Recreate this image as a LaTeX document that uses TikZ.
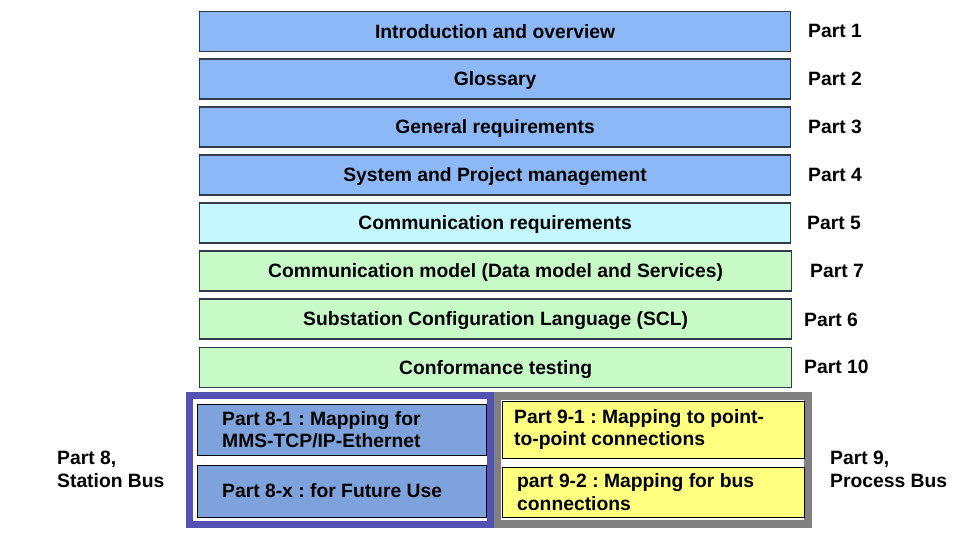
\documentclass[tikz,border=0pt]{standalone}
\usepackage{fontspec}
\setmainfont{Liberation Sans}
\definecolor{barblue}{RGB}{140,184,248}
\definecolor{barcyan}{RGB}{196,248,252}
\definecolor{bargreen}{RGB}{200,250,200}
\definecolor{boxblue}{RGB}{126,162,220}
\definecolor{frameblue}{RGB}{82,82,178}
\definecolor{framegray}{RGB}{128,128,128}
\definecolor{boxyellow}{RGB}{255,255,128}
\definecolor{edge}{RGB}{50,60,70}
\begin{document}
\frenchspacing
\begin{tikzpicture}[x=1pt,y=-1pt,
  every node/.style={font=\fontsize{19.3}{22.5}\selectfont\bfseries},
  bar/.style={draw=edge,line width=1.2pt,minimum width=591pt,minimum height=40pt,inner sep=0pt,anchor=north west,text height=13.8pt,text depth=0pt},
  sub/.style={draw=black,line width=1.2pt,inner sep=0pt,anchor=north west},
  lbl/.style={anchor=west,inner sep=0pt,text height=13.8pt,text depth=0pt},
  txt/.style={anchor=west,inner sep=0pt,align=left}]
\useasboundingbox (0,0) rectangle (962,537);
\fill[white] (0,0) rectangle (962,537);
% main bars
\node[bar,fill=barblue] (b1) at (199,11) {Introduction and overview};
\node[bar,fill=barblue] (b2) at (199,58.5) {Glossary};
\node[bar,fill=barblue] (b3) at (199,106.5) {General requirements};
\node[bar,fill=barblue] (b4) at (199,154.5) {System and Project management};
\node[bar,fill=barcyan] (b5) at (199,202.5) {Communication requirements};
\node[bar,fill=bargreen,minimum width=592pt] (b6) at (199,250.5) {Communication model (Data model and Services)};
\node[bar,fill=bargreen,minimum width=592pt] (b7) at (199,298.5) {Substation Configuration Language (SCL)};
\node[bar,fill=bargreen,minimum width=592pt] (b8) at (199,347) {Conformance testing};
% part labels
\node[lbl] (p1) at (808,31) {Part 1};
\node[lbl] (p2) at (808,79) {Part 2};
\node[lbl] (p3) at (808,127) {Part 3};
\node[lbl] (p4) at (808,175) {Part 4};
\node[lbl] (p5) at (807,223) {Part 5};
\node[lbl] (p7) at (810,271) {Part 7};
\node[lbl] (p6) at (804,320) {Part 6};
\node[lbl] (p10) at (804,367) {Part 10};
% frames
\draw[framegray,line width=8pt] (497,396) rectangle (808,524);
\draw[frameblue,line width=7pt] (189.5,395.5) rectangle (490,524.5);
% part 8 boxes
\node[sub,fill=boxblue,minimum width=289pt,minimum height=51pt] (s81) at (197,404) {};
\node[sub,fill=boxblue,minimum width=289pt,minimum height=52pt] (s8x) at (197,465) {};
\node[txt] (t81) at (222,429.5) {Part 8-1 : Mapping for\\MMS-TCP/IP-Ethernet};
\node[txt] (t8x) at (222,491) {Part 8-x : for Future Use};
% part 9 boxes
\node[sub,fill=boxyellow,minimum width=302pt,minimum height=57pt] (s91) at (502,401) {};
\node[sub,fill=boxyellow,minimum width=302pt,minimum height=50pt] (s92) at (502,467) {};
\node[txt] (t91) at (514,429.5) {Part 9-1 : Mapping to point-\\to-point connections};
\node[txt] (t92) at (517,492) {part 9-2 : Mapping for bus\\connections};
% side labels
\node[txt] (l8) at (57,469.5) {Part 8,\\Station Bus};
\node[txt] (l9) at (830,469.5) {Part 9,\\Process Bus};
\end{tikzpicture}
\end{document}
